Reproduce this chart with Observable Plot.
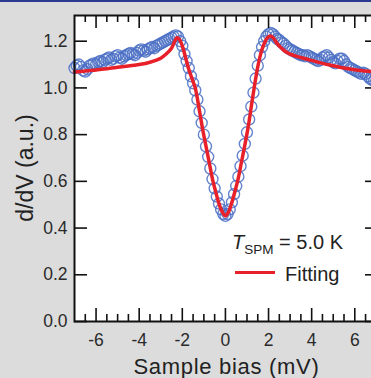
<!DOCTYPE html>
<html><head><meta charset="utf-8">
<script src="https://cdn.jsdelivr.net/npm/d3@7"></script>
<script src="https://cdn.jsdelivr.net/npm/@observablehq/plot@0.6"></script>
<style>
html,body{margin:0;padding:0;background:#dcdcdc;overflow:hidden;}
#wrap{position:relative;width:371px;height:378px;overflow:hidden;background:#dcdcdc;}
#chart{position:absolute;left:0;top:0;width:380px;}
#chart svg{max-width:none !important;}
#chart g[aria-label="text"] text{letter-spacing:0.7px;}
#topline{position:absolute;left:0;top:0;width:371px;height:2px;background:#2b3990;}
.lbl{position:absolute;font-family:"Liberation Sans",Arial,sans-serif;color:#222;white-space:nowrap;line-height:1;}
#ylab{font-size:23px;left:25px;top:168px;transform:translate(-50%,-50%) rotate(-90deg);}
#tleg{font-size:20px;left:232px;top:232px;}
#tleg sub{font-size:13.5px;vertical-align:-5px;line-height:0;}
#fleg{font-size:20px;left:285px;top:264px;}
#fline{position:absolute;left:235px;top:271px;width:40px;height:3px;background:#e8202a;}
</style></head>
<body><div id="wrap"><div id="chart"></div><div id="topline"></div>
<div class="lbl" id="ylab">d/d<span>V</span> (a.u.)</div>
<div class="lbl" id="tleg"><i>T</i><sub>SPM</sub> = 5.0 K</div>
<div id="fline"></div>
<div class="lbl" id="fleg">Fitting</div>
</div>
<script>
const bias = [-7.0,-6.9,-6.8,-6.7,-6.6,-6.5,-6.4,-6.3,-6.2,-6.1,-6.0,-5.9,-5.8,-5.7,-5.6,-5.5,-5.4,-5.3,-5.2,-5.1,-5.0,-4.9,-4.8,-4.7,-4.6,-4.5,-4.4,-4.3,-4.2,-4.1,-4.0,-3.9,-3.8,-3.7,-3.6,-3.5,-3.4,-3.3,-3.2,-3.1,-3.0,-2.9,-2.8,-2.7,-2.6,-2.5,-2.4,-2.3,-2.2,-2.1,-2.0,-1.9,-1.8,-1.7,-1.6,-1.5,-1.4,-1.3,-1.2,-1.1,-1.0,-0.9,-0.8,-0.7,-0.6,-0.5,-0.4,-0.3,-0.2,-0.1,0.0,0.1,0.2,0.3,0.4,0.5,0.6,0.7,0.8,0.9,1.0,1.1,1.2,1.3,1.4,1.5,1.6,1.7,1.8,1.9,2.0,2.1,2.2,2.3,2.4,2.5,2.6,2.7,2.8,2.9,3.0,3.1,3.2,3.3,3.4,3.5,3.6,3.7,3.8,3.9,4.0,4.1,4.2,4.3,4.4,4.5,4.6,4.7,4.8,4.9,5.0,5.1,5.2,5.3,5.4,5.5,5.6,5.7,5.8,5.9,6.0,6.1,6.2,6.3,6.4,6.5,6.6,6.7,6.8,6.9,7.0];
const didv = [1.085,1.095,1.10,1.09,1.075,1.07,1.08,1.095,1.10,1.105,1.10,1.11,1.115,1.11,1.12,1.125,1.13,1.12,1.125,1.135,1.14,1.13,1.125,1.135,1.14,1.145,1.15,1.145,1.14,1.15,1.16,1.165,1.16,1.155,1.165,1.17,1.175,1.17,1.18,1.185,1.19,1.195,1.20,1.205,1.21,1.215,1.22,1.225,1.22,1.20,1.18,1.145,1.115,1.085,1.05,1.02,0.99,0.95,0.90,0.85,0.80,0.75,0.705,0.655,0.61,0.57,0.535,0.505,0.48,0.46,0.452,0.46,0.48,0.51,0.545,0.58,0.62,0.665,0.71,0.76,0.81,0.865,0.92,0.98,1.04,1.095,1.14,1.175,1.20,1.22,1.23,1.235,1.23,1.22,1.21,1.205,1.195,1.19,1.18,1.17,1.165,1.16,1.155,1.15,1.145,1.14,1.14,1.135,1.14,1.135,1.13,1.125,1.12,1.115,1.12,1.13,1.135,1.14,1.13,1.12,1.11,1.105,1.115,1.125,1.125,1.115,1.10,1.09,1.085,1.08,1.075,1.07,1.065,1.06,1.065,1.06,1.05,1.04,1.035,1.03,1.03];
const fitBias = [-7.0,-6.5,-6.0,-5.5,-5.0,-4.5,-4.0,-3.5,-3.0,-2.75,-2.5,-2.35,-2.25,-2.15,-2.0,-1.85,-1.7,-1.55,-1.4,-1.2,-1.05,-0.9,-0.75,-0.6,-0.45,-0.3,-0.15,0,0.15,0.3,0.45,0.6,0.75,0.9,1.05,1.2,1.35,1.5,1.65,1.8,1.95,2.1,2.25,2.4,2.6,2.8,3.0,3.5,4.0,4.5,5.0,5.5,6.0,6.5,7.0];
const fitValue = [1.068,1.072,1.077,1.082,1.088,1.094,1.10,1.11,1.127,1.145,1.17,1.20,1.215,1.21,1.18,1.13,1.08,1.04,1.00,0.90,0.82,0.75,0.68,0.61,0.555,0.505,0.47,0.452,0.47,0.51,0.56,0.615,0.685,0.755,0.83,0.92,1.01,1.09,1.15,1.19,1.215,1.222,1.21,1.19,1.17,1.155,1.145,1.13,1.118,1.105,1.095,1.085,1.078,1.072,1.068];
const xMajorTicks = [-6,-4,-2,0,2,4,6];
const xMinorTicks = [-6.5,-5.5,-5,-4.5,-3.5,-3,-2.5,-1.5,-1,-0.5,0.5,1,1.5,2.5,3,3.5,4.5,5,5.5,6.5,7];
const yTicks = [0,0.2,0.4,0.6,0.8,1.0,1.2];

const data = bias.map((b,i)=>({bias:b, v:didv[i]}));
const fit = fitBias.map((b,i)=>({bias:b, v:fitValue[i]}));

const W = 380, H = 378, mL = 74, mR = 2, mT = 15, mB = 57;
const fw = W - mL - mR, fh = H - mT - mB;
const major = 13, minor = 7;
const ink = "#111";

const plot = Plot.plot({
  width: W, height: H,
  marginLeft: mL, marginRight: mR, marginTop: mT, marginBottom: mB,
  style: {background: "transparent", fontFamily: "'Liberation Sans', Arial, sans-serif", fontSize: "17.5px", color: "#2a2a2a", maxWidth: "none"},
  x: {domain: [-7, 7.1]},
  y: {domain: [0, 1.31]},
  marks: [
    Plot.frame({fill: "white", stroke: "none"}),
    Plot.dot(data, {x: "bias", y: "v", r: 5.5, stroke: "#4a6fc4", strokeWidth: 1.4, strokeOpacity: 0.85, fill: "none"}),
    Plot.line(fit, {x: "bias", y: "v", stroke: "#e8202a", strokeWidth: 3.5, curve: "catmull-rom"}),
    Plot.tickX(xMajorTicks, {x: d => d, insetTop: fh - major, stroke: ink, strokeWidth: 1.6}),
    Plot.tickX(xMinorTicks, {x: d => d, insetTop: fh - minor, stroke: ink, strokeWidth: 1.6}),
    Plot.tickX(xMajorTicks, {x: d => d, insetBottom: fh - major, stroke: ink, strokeWidth: 1.6}),
    Plot.tickX(xMinorTicks, {x: d => d, insetBottom: fh - minor, stroke: ink, strokeWidth: 1.6}),
    Plot.tickY(yTicks, {y: d => d, insetRight: fw - major, stroke: ink, strokeWidth: 1.6}),
    Plot.tickY(yTicks, {y: d => d, insetLeft: fw - major, stroke: ink, strokeWidth: 1.6}),
    Plot.axisX(xMajorTicks, {tickSize: 0, tickPadding: 12, tickFormat: d => String(d), label: null}),
    Plot.axisY(yTicks, {tickSize: 0, tickPadding: 7, tickFormat: d => d.toFixed(1), label: null}),
    Plot.text(["Sample bias (mV)"], {frameAnchor: "bottom", dy: 52, fontSize: 22, fill: "#222"}),
    Plot.frame({stroke: ink, strokeWidth: 2})
  ]
});
document.getElementById("chart").appendChild(plot);
</script>
</body></html>
